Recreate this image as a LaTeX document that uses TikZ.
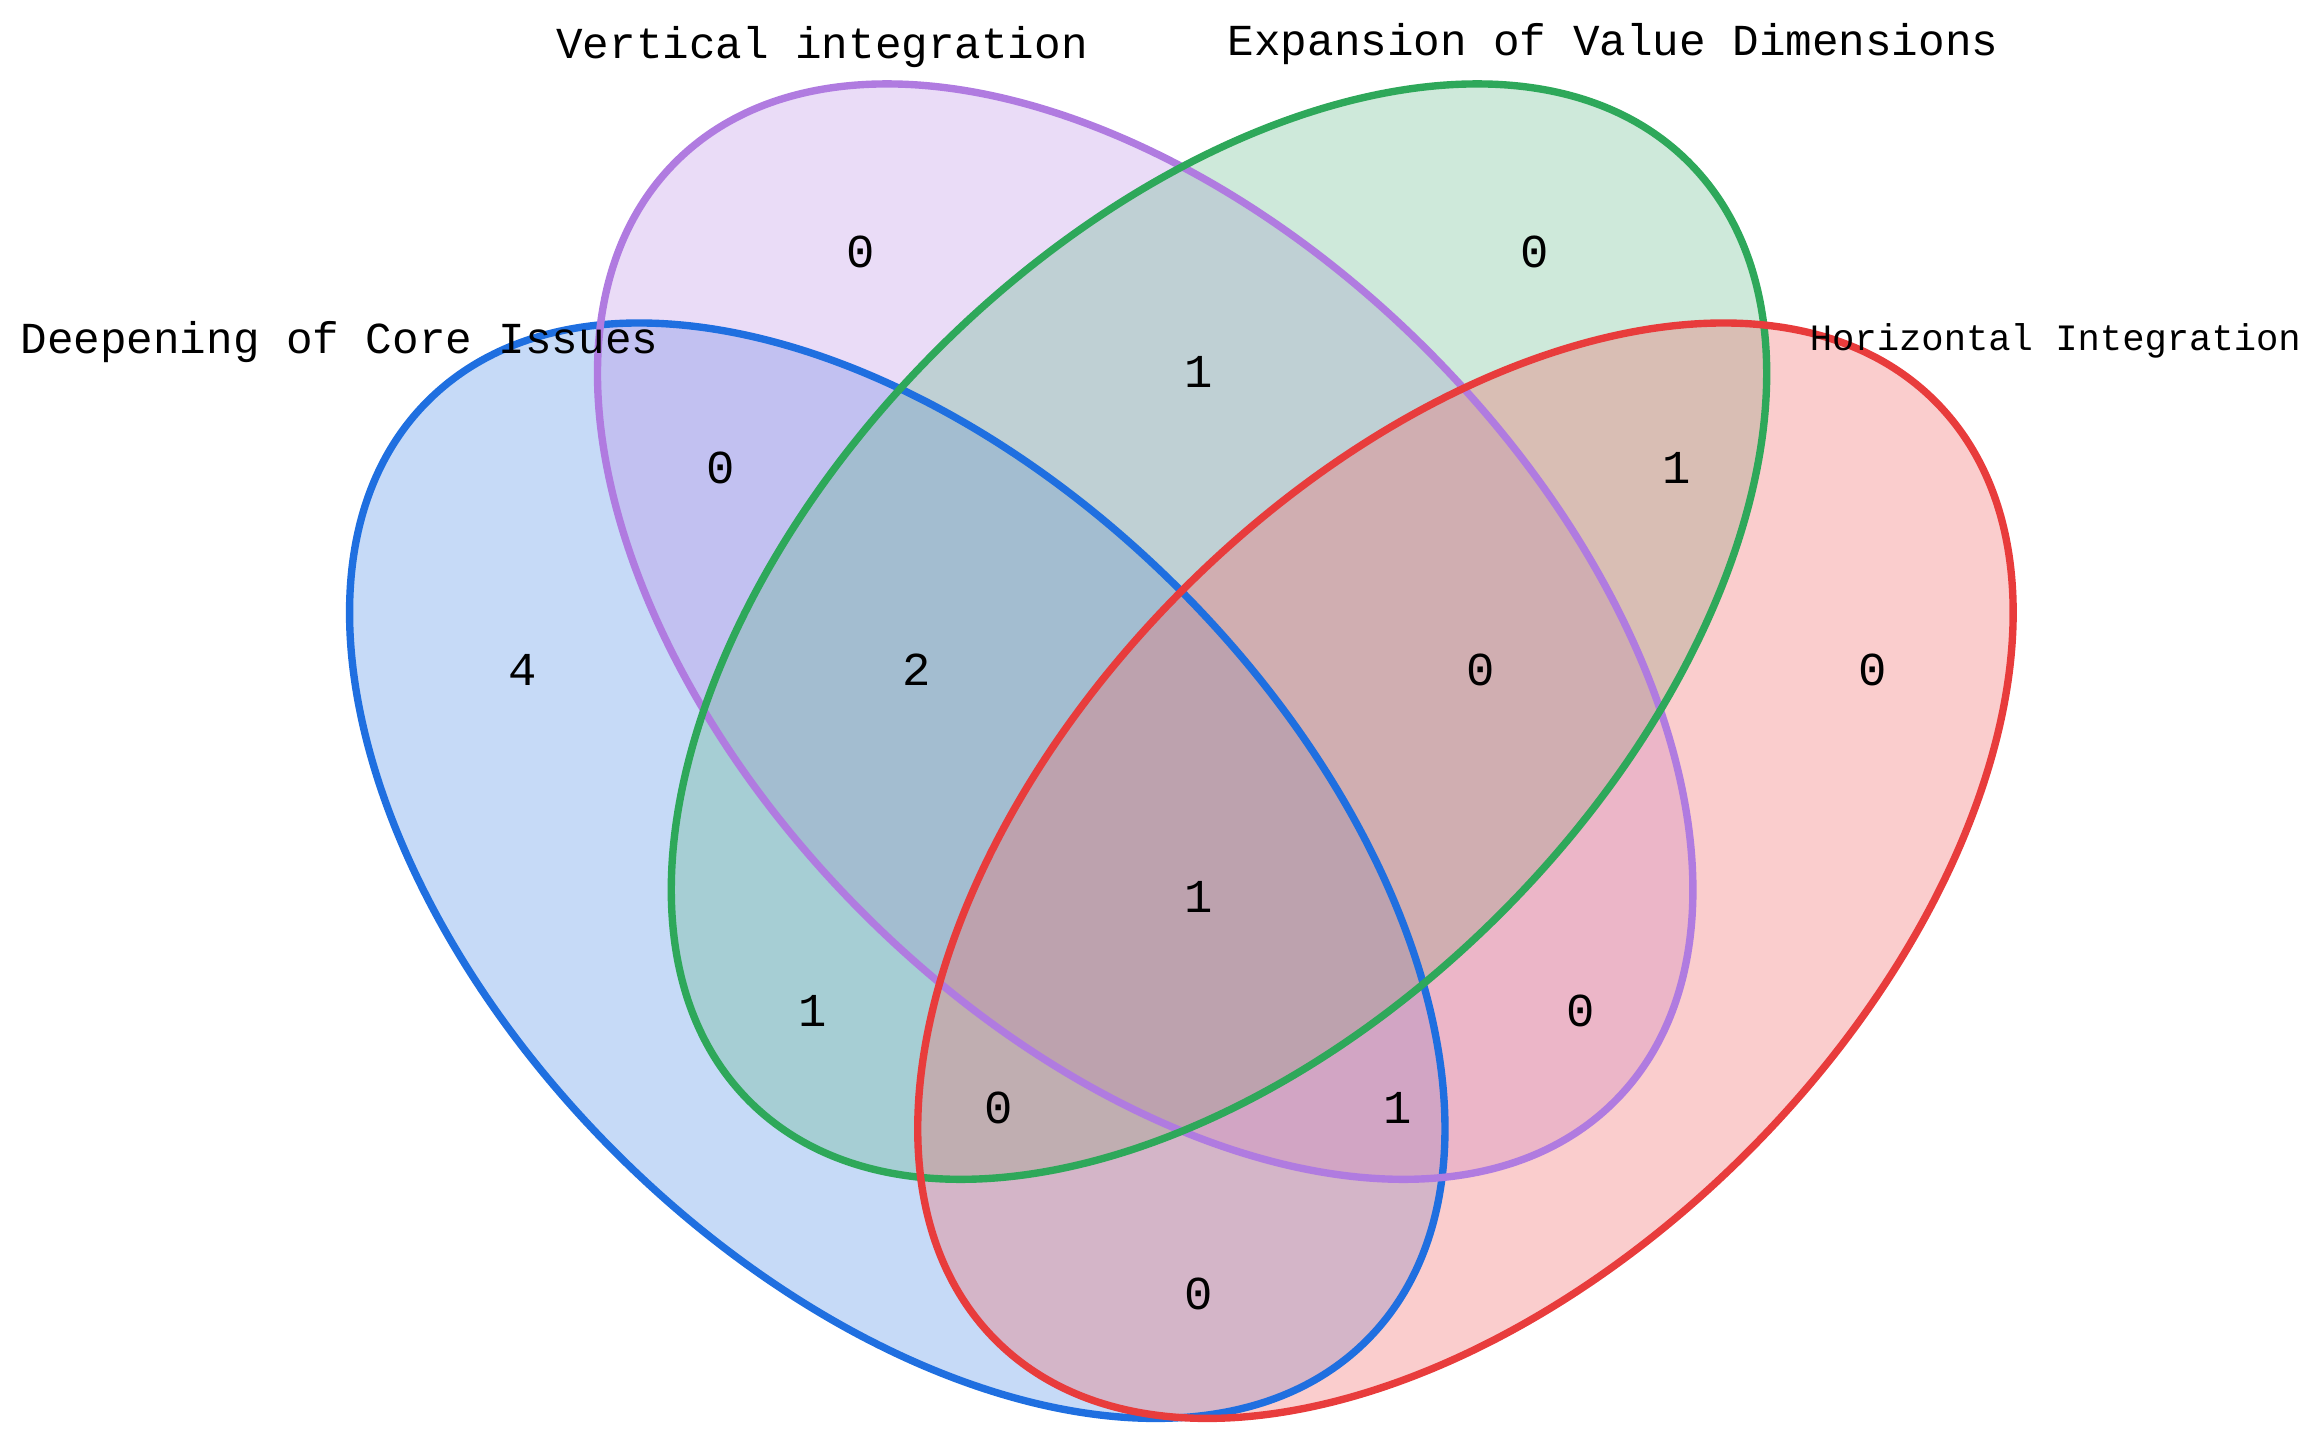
\documentclass[tikz,border=0pt]{standalone}
\usepackage{fontspec}
\setmainfont{Liberation Mono}
\begin{document}
\begin{tikzpicture}[x=0.5pt,y=0.5pt,
  lab/.style={font=\fontsize{15}{18}\selectfont, inner sep=0},
  num/.style={font=\fontsize{16}{18}\selectfont, inner sep=0}]
\useasboundingbox (0,0) rectangle (1568,981);
\definecolor{cb}{HTML}{1F6FE0}\definecolor{cp}{HTML}{B07BE0}
\definecolor{cg}{HTML}{2EA85A}\definecolor{cr}{HTML}{E83C3C}
\definecolor{fb}{HTML}{5B95E8}\definecolor{fp}{HTML}{B98AE6}
\definecolor{fg}{HTML}{5CB583}\definecolor{fr}{HTML}{F07070}
\def\ab{(450 and 270)}
\fill[fb,opacity=0.35,shift={(608,391)},rotate=-45] (0,0) ellipse (450 and 270);
\fill[fp,opacity=0.3,shift={(776,553)},rotate=-45] (0,0) ellipse (450 and 270);
\fill[fg,opacity=0.3,shift={(826,553)},rotate=45] (0,0) ellipse (450 and 270);
\fill[fr,opacity=0.35,shift={(993,391)},rotate=45] (0,0) ellipse (450 and 270);
\draw[cb,line width=2.5pt,shift={(608,391)},rotate=-45] (0,0) ellipse (450 and 270);
\draw[cp,line width=2.5pt,shift={(776,553)},rotate=-45] (0,0) ellipse (450 and 270);
\draw[cg,line width=2.5pt,shift={(826,553)},rotate=45] (0,0) ellipse (450 and 270);
\draw[cr,line width=2.5pt,shift={(993,391)},rotate=45] (0,0) ellipse (450 and 270);
\node[lab] (l1) at (557,949) {Vertical integration};
\node[lab] (l2) at (1093,951) {Expansion of Value Dimensions};
\node[lab] (l3) at (230,749) {Deepening of Core Issues};
\node[lab,anchor=west,font=\fontsize{12.6}{15}\selectfont] (l4) at (1226,750) {Horizontal Integration};
\foreach \x/\y/\t [count=\i] in {583/171/0,1040/171/0,812/252/1,488/317/0,1136/317/1,
 354/454/4,621/454/2,1003/454/0,1269/454/0,812/608/1,551/685/1,1071/685/0,
 677/751/0,947/751/1,812/877/0}
  \node[num] (n\i) at (\x,981-\y) {\t};
\end{tikzpicture}
\end{document}
